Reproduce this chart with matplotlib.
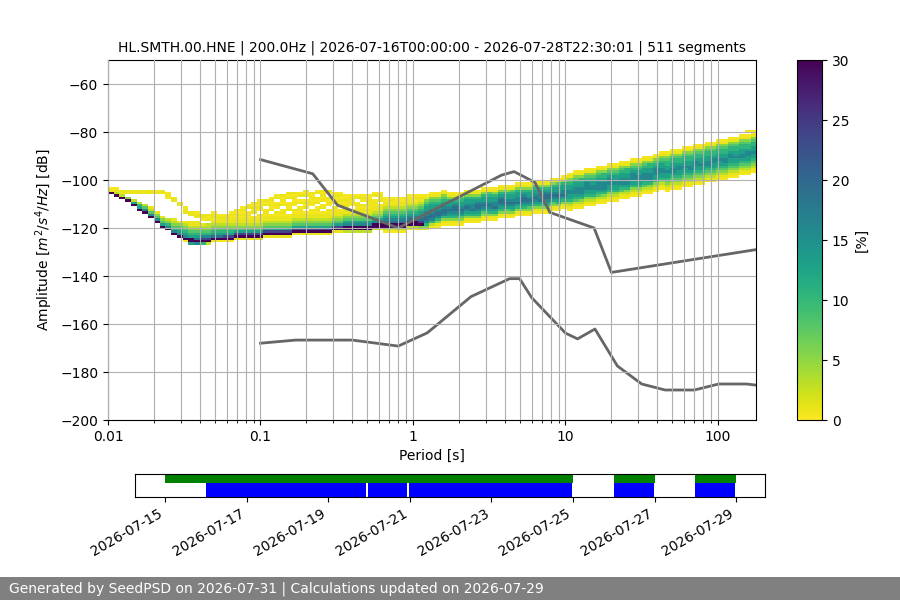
import numpy as np
import matplotlib
matplotlib.use("Agg")
import matplotlib.pyplot as plt
import matplotlib.dates as mdates
from matplotlib.ticker import FormatStrFormatter, NullFormatter
from datetime import datetime

TITLE = "HL.SMTH.00.HNE | 200.0Hz | 2026-07-16T00:00:00 - 2026-07-28T22:30:01 | 511 segments"
FOOTER = "Generated by SeedPSD on 2026-07-31 | Calculations updated on 2026-07-29"

# Peterson noise models, period [s] / dB
NHNM_PERIODS = [0.1, 0.22, 0.32, 0.8, 3.8, 4.6, 6.3, 7.9, 15.4, 20.0, 354.8]
NHNM_DB = [-91.5, -97.4, -110.5, -120.0, -98.0, -96.5, -101.0, -113.5, -120.0, -138.5, -126.0]
NLNM_PERIODS = [0.1, 0.17, 0.4, 0.8, 1.24, 2.4, 4.3, 5.0, 6.0, 10.0, 12.0, 15.6,
                21.9, 31.6, 45.0, 70.0, 101.0, 154.0, 328.0]
NLNM_DB = [-168.0, -166.7, -166.7, -169.2, -163.7, -148.6, -141.1, -141.1, -149.0,
           -163.8, -166.2, -162.1, -177.5, -185.0, -187.5, -187.5, -185.0, -185.0, -187.5]

# histogram binning: 1/8 octave in period, 1 dB in amplitude
PERIOD_START = 0.01
PERIOD_STEP_OCTAVES = 0.125
DB_MIN, DB_MAX = -200, -50

# one character per 1 dB cell -> percentage of segments
LEVEL_PCT = {".": 0, "1": 0.4, "2": 1.0, "3": 3, "4": 5.5, "5": 8, "6": 10.5,
             "7": 13, "8": 16, "9": 19, "A": 24, "X": 35}

# per period bin: runs of (lowest dB, cells going up)
HIST_COLUMNS = [
    [(-106, "X21")],
    [(-107, "X321")],
    [(-108, "X3"), (-106, "22")],
    [(-109, "X4"), (-106, "22")],
    [(-111, "X73"), (-106, "22")],
    [(-113, "X763"), (-106, "22")],
    [(-114, "X853"), (-106, "22")],
    [(-116, "X8532"), (-106, "22")],
    [(-118, "X8542"), (-106, "21")],
    [(-120, "X7542"), (-106, "22")],
    [(-121, "X8643"), (-108, "121")],
    [(-123, "X865432"), (-109, "22")],
    [(-124, "X876542"), (-111, "22")],
    [(-126, "1X8765432"), (-114, "221")],
    [(-127, "7XX7654322"), (-115, "22")],
    [(-127, "8X97654322"), (-116, "221")],
    [(-127, "6XA865432"), (-117, "122")],
    [(-127, "3XA865433"), (-117, "212")],
    [(-126, "2X976543"), (-118, "21221")],
    [(-126, "1X97654322"), (-116, "21")],
    [(-126, "1XA765432221")],
    [(-126, "1XA7654322121")],
    [(-125, "2XA7543221212")],
    [(-125, "2XA75432212121")],
    [(-125, "2XA754322121.21")],
    [(-125, "2XA7543221.21212")],
    [(-125, "2XA75432212.12121")],
    [(-124, "2XA754322121.212")],
    [(-124, "2XA7543221.212121")],
    [(-124, "2XA75432212.121.21")],
    [(-124, "2XA754322121.21212")],
    [(-124, "2XA7543221.2121.212")],
    [(-123, "2XA75432212.121212")],
    [(-123, "2XA754322121.21.21")],
    [(-123, "2XA7543221.2121.212")],
    [(-123, "2XA75432212.121212")],
    [(-123, "2XA754322121.212.21")],
    [(-123, "2XA7543221.21.21212")],
    [(-123, "2XA75432212.1212.12")],
    [(-122, "2XA75432212.12121")],
    [(-122, "2XA7543221.212121")],
    [(-122, "3XX8754322121211")],
    [(-122, "3XX8754322.12121")],
    [(-122, "3XX8754322121.21")],
    [(-122, "3XX875432212.121")],
    [(-122, "3XX8754322121211")],
    [(-121, "3XX8754322121.21")],
    [(-121, "2XX87543221.2121")],
    [(-122, "13XX98765432211")],
    [(-122, "13XX98765432121")],
    [(-122, "13XX98765432211")],
    [(-122, "13XX98765432212")],
    [(-121, "13XX98765432211")],
    [(-121, "13XX98765432121")],
    [(-121, "24XA98776543221")],
    [(-121, "246899887765421")],
    [(-120, "136899887765421")],
    [(-120, "124689987765421")],
    [(-119, "124689987765421")],
    [(-119, "12467898776421")],
    [(-119, "12467899876421")],
    [(-119, "12457898776521")],
    [(-118, "12467898776421")],
    [(-118, "12467988776421")],
    [(-118, "12467899876421")],
    [(-117, "12457898776421")],
    [(-117, "12467898776521")],
    [(-117, "12467988776421")],
    [(-116, "12467899876421")],
    [(-116, "12457898776421")],
    [(-116, "12467898776521")],
    [(-115, "12467988776421")],
    [(-115, "12467899876421")],
    [(-115, "12457898776421")],
    [(-114, "12467898776521")],
    [(-114, "12467988776421")],
    [(-114, "12467899876421")],
    [(-113, "12457898776421")],
    [(-113, "12467898776521")],
    [(-112, "12467988776421")],
    [(-113, "1234677887765421")],
    [(-112, "1235678887765421")],
    [(-112, "1234678887766421")],
    [(-111, "1234677888765421")],
    [(-111, "1234677887765421")],
    [(-110, "1235678887765421")],
    [(-110, "1234678887766421")],
    [(-109, "1234677888765421")],
    [(-109, "1234677887765421")],
    [(-108, "1235678887765421")],
    [(-108, "1234678887766421")],
    [(-107, "1234677888765421")],
    [(-107, "1234677887765421")],
    [(-106, "1235678887765421")],
    [(-106, "1234678887766421")],
    [(-105, "1234677888765421")],
    [(-104, "1234677887765421")],
    [(-105, "12345677877665421")],
    [(-104, "12345678877665421")],
    [(-104, "12345677887665421")],
    [(-103, "12345677877665421")],
    [(-103, "12345678877665421")],
    [(-102, "12345677887665421")],
    [(-102, "12345677877665421")],
    [(-101, "12345678877665421")],
    [(-101, "12345677887665421")],
    [(-100, "12345677877665421")],
    [(-100, "12345678877665421")],
    [(-99, "12345677887665421")],
    [(-99, "12345677877665421")],
    [(-98, "12345678877665421")],
    [(-98, "12345677887665421"), (-80, "1")],
    [(-97, "12345677877665421"), (-80, "1")],
]

# time coverage bars
DATA_SPANS = [("2026-07-15T00:00", "2026-07-25T00:00"),
              ("2026-07-26T00:00", "2026-07-27T00:00"),
              ("2026-07-28T00:00", "2026-07-29T00:00")]
PROCESSED_SPANS = [("2026-07-16T00:00", "2026-07-19T22:30"),
                   ("2026-07-19T23:30", "2026-07-20T22:30"),
                   ("2026-07-20T23:30", "2026-07-24T23:30"),
                   ("2026-07-26T00:00", "2026-07-26T23:30"),
                   ("2026-07-28T00:00", "2026-07-28T23:30")]
TIME_LIMITS = ("2026-07-14T06:20", "2026-07-29T17:00")

# build the histogram grid
n_cols = len(HIST_COLUMNS)
period_edges = PERIOD_START * 2.0 ** (np.arange(n_cols + 1) * PERIOD_STEP_OCTAVES)
db_edges = np.arange(DB_MIN, DB_MAX + 1)
hist = np.zeros((len(db_edges) - 1, n_cols))
for k, runs in enumerate(HIST_COLUMNS):
    for start, cells in runs:
        for i, ch in enumerate(cells):
            hist[start + i - DB_MIN, k] = LEVEL_PCT[ch]
hist = np.ma.masked_equal(hist, 0)

fig = plt.figure(figsize=(9, 6), dpi=100)
ax = fig.add_axes([0.12, 0.30, 0.72, 0.60])
cax = fig.add_axes([0.8856, 0.30, 0.0278, 0.60])
tax = fig.add_axes([0.15, 0.1717, 0.70, 0.0383])

mesh = ax.pcolormesh(period_edges, db_edges, hist, cmap="viridis_r", vmin=0, vmax=30)
ax.plot(NHNM_PERIODS, NHNM_DB, color="0.4", linewidth=2)
ax.plot(NLNM_PERIODS, NLNM_DB, color="0.4", linewidth=2)

ax.set_xscale("log")
ax.set_xlim(0.01, 177.5)
ax.set_ylim(-200, -50)
ax.set_yticks(np.arange(-200, -59, 20))
ax.xaxis.set_major_formatter(FormatStrFormatter("%g"))
ax.xaxis.set_minor_formatter(NullFormatter())
ax.set_axisbelow(False)
ax.grid(True, which="major")
ax.grid(True, which="minor", axis="x")
ax.set_xlabel("Period [s]")
ax.set_ylabel("Amplitude [$m^2/s^4/Hz$] [dB]")
ax.set_title(TITLE, fontsize=10)

cb = fig.colorbar(mesh, cax=cax)
cb.set_label("[%]")
cb.set_ticks(np.arange(0, 31, 5))

# coverage
def spans(lst):
    out = []
    for a, b in lst:
        s = mdates.date2num(datetime.fromisoformat(a))
        e = mdates.date2num(datetime.fromisoformat(b))
        out.append((s, e - s))
    return out

tax.broken_barh(spans(DATA_SPANS), (0.6, 0.4), color="g", linewidth=0)
tax.broken_barh(spans(PROCESSED_SPANS), (0.0, 0.6), color="b", linewidth=0)
tax.set_xlim(*[mdates.date2num(datetime.fromisoformat(t)) for t in TIME_LIMITS])
tax.set_ylim(0, 1)
tax.set_yticks([])
tax.xaxis.set_major_locator(mdates.DayLocator(bymonthday=range(1, 32, 2)))
tax.xaxis.set_major_formatter(mdates.DateFormatter("%Y-%m-%d"))
for lbl in tax.get_xticklabels():
    lbl.set_rotation(30)
    lbl.set_ha("right")

# footer band
fig.patches.append(plt.Rectangle((0, 0), 1, 23 / 600, transform=fig.transFigure,
                                 facecolor="gray", edgecolor="none", zorder=0))
fig.text(9 / 900, 11.5 / 600, FOOTER, color="white", fontsize=10, va="center", ha="left")

fig.savefig("out.png", dpi=100)
